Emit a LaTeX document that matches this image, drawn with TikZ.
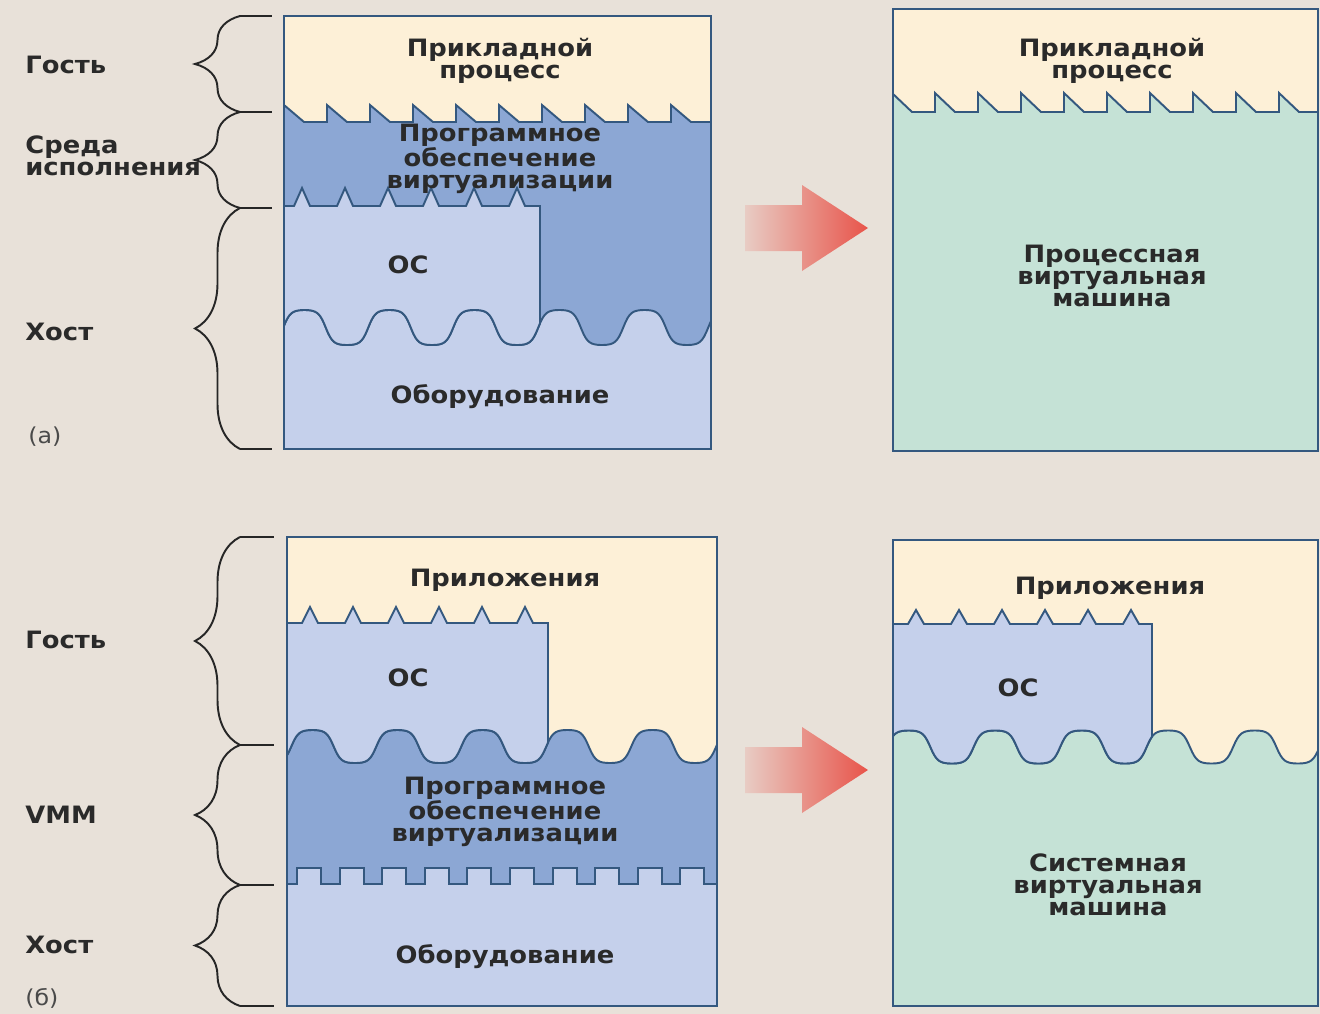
\documentclass[tikz,border=0pt]{standalone}
\usepackage{fontspec}
\newfontfamily\diagfont[FakeStretch=1.08]{DejaVu Sans}
\usetikzlibrary{decorations.pathreplacing,shadings}
\definecolor{bgcol}{HTML}{E8E1D9}
\definecolor{appcol}{HTML}{FDF0D7}
\definecolor{vmcol}{HTML}{8CA7D4}
\definecolor{oscol}{HTML}{C5D0EB}
\definecolor{vmtcol}{HTML}{C5E2D6}
\definecolor{linecol}{HTML}{34587F}
\definecolor{textcol}{HTML}{2A2A2A}
\definecolor{arrowred}{HTML}{E8544A}
\tikzset{
	layer text/.style={
		font=\diagfont\bfseries\fontsize{13.6pt}{12.5pt}\selectfont,
		text=textcol,
		align=center,
		inner sep=0pt
	},
	side label/.style={
		layer text,
		anchor=west,
		align=left
	},
	panel tag/.style={
		font=\diagfont\fontsize{12.5pt}{13pt}\selectfont,
		text=textcol!85,
		anchor=west,
		inner sep=0pt
	},
	layer edge/.style={draw=linecol, line width=1.1pt},
	box edge/.style={draw=linecol, line width=1.3pt},
	brace line/.style={draw=black!85, line width=1.1pt},
	side brace/.style={
		brace line,
		decorate,
		decoration={brace, amplitude=0.9cm, aspect=0.5}
	},
	shift arrow/.style={
		left color=arrowred!15!bgcol,
		middle color=arrowred!80!bgcol,
		right color=arrowred
	}
}

\begin{document}
\begin{tikzpicture}[x=0.02cm, y=-0.02cm,
	declare function={
		hump(\t)=tanh(1.8*cos(\t))/tanh(1.8);
		hwA(\x)=327.5+17.5*hump(((\x-347)/85)*360);
		vmB(\x)=746.5+16.5*hump(((\x-355)/85)*360);
		vmC(\x)=747+16.5*hump(((\x-952)/86.5)*360);
	}]
	\useasboundingbox[fill=bgcol] (0,0) rectangle (1320,1014);

	% (a) left: process VM, layered view
	\begin{scope}
		\clip (284,16) rectangle (711,449);
		\fill[oscol] (284,16) rectangle (711,449);
		\path[fill=vmcol, layer edge] (270,100) -- (725,100)
			-- plot[domain=725:270, samples=220] (\x,{hwA(\x)}) -- cycle;
		\path[fill=oscol, layer edge] (270,206)
			\foreach \p in {302,345,...,517} { -- (\p-8,206) -- (\p,188) -- (\p+8,206) }
			-- (540,206) -- plot[domain=540:270, samples=140] (\x,{hwA(\x)}) -- cycle;
		\path[fill=appcol, layer edge] (270,0) -- (270,105)
			\foreach \p in {284,327,...,671} { -- (\p,105) -- (\p+20,122) -- (\p+43,122) }
			-- (725,122) -- (725,0) -- cycle;
	\end{scope}
	\draw[box edge] (284,16) rectangle (711,449);
	\node[layer text] (appA) at (500,61) {Прикладной\\процесс};
	\node[layer text] (virtA) at (500,159) {Программное\\обеспечение\\виртуализации};
	\node[layer text] (osA) at (408,265) {ОС};
	\node[layer text] (hwA) at (500,397) {Оборудование};

	% (a) right: process VM
	\begin{scope}
		\clip (893,9) rectangle (1318,451);
		\fill[vmtcol] (893,9) rectangle (1318,451);
		\path[fill=appcol, layer edge] (880,0) -- (880,93)
			\foreach \p in {892,935,...,1279} { -- (\p,93) -- (\p+20,112) -- (\p+43,112) }
			-- (1330,112) -- (1330,0) -- cycle;
	\end{scope}
	\draw[box edge] (893,9) rectangle (1318,451);
	\node[layer text] (appAr) at (1112,61) {Прикладной\\процесс};
	\node[layer text] (pvm) at (1112,276) {Процессная\\виртуальная\\машина};

	% (б) left: system VM, layered view
	\begin{scope}
		\clip (287,537) rectangle (717,1006);
		\fill[appcol] (287,537) rectangle (717,1006);
		\path[fill=vmcol, layer edge] plot[domain=270:730, samples=220] (\x,{vmB(\x)})
			-- (730,890) -- (270,890) -- cycle;
		\path[fill=oscol, layer edge] (270,884)
			\foreach \k in {0,...,9} { -- ({297+42.6*\k},884) -- ({297+42.6*\k},868)
				-- ({321+42.6*\k},868) -- ({321+42.6*\k},884) }
			-- (730,884) -- (730,1020) -- (270,1020) -- cycle;
		\path[fill=oscol, layer edge] (270,623)
			\foreach \p in {310,353,...,525} { -- (\p-8,623) -- (\p,607) -- (\p+8,623) }
			-- (548,623) -- plot[domain=548:270, samples=140] (\x,{vmB(\x)}) -- cycle;
	\end{scope}
	\draw[box edge] (287,537) rectangle (717,1006);
	\node[layer text] (appB) at (505,580) {Приложения};
	\node[layer text] (osB) at (408,678) {ОС};
	\node[layer text] (virtB) at (505,812) {Программное\\обеспечение\\виртуализации};
	\node[layer text] (hwB) at (505,957) {Оборудование};

	% (б) right: system VM
	\begin{scope}
		\clip (893,540) rectangle (1318,1006);
		\fill[appcol] (893,540) rectangle (1318,1006);
		\path[fill=vmtcol, layer edge] plot[domain=880:1330, samples=220] (\x,{vmC(\x)})
			-- (1330,1020) -- (880,1020) -- cycle;
		\path[fill=oscol, layer edge] (880,624)
			\foreach \p in {916,959,...,1131} { -- (\p-8,624) -- (\p,610) -- (\p+8,624) }
			-- (1152,624) -- plot[domain=1152:880, samples=140] (\x,{vmC(\x)}) -- cycle;
	\end{scope}
	\draw[box edge] (893,540) rectangle (1318,1006);
	\node[layer text] (appBr) at (1110,588) {Приложения};
	\node[layer text] (osBr) at (1018,688) {ОС};
	\node[layer text] (svm) at (1108,885) {Системная\\виртуальная\\машина};

	% arrows
	\foreach \ay in {228,770} {
		\path[shift arrow] (745,\ay-23) -- (802,\ay-23) -- (802,\ay-43) -- (868,\ay)
			-- (802,\ay+43) -- (802,\ay+23) -- (745,\ay+23) -- cycle;
	}

	% braces and side labels, (a)
	\coordinate (ga0) at (240,16);
	\coordinate (ga1) at (240,112);
	\coordinate (ga2) at (240,208);
	\coordinate (ga3) at (240,449);
	\draw[side brace] (ga1) -- (ga0);
	\draw[side brace] (ga2) -- (ga1);
	\draw[side brace] (ga3) -- (ga2);
	\foreach \g in {ga0,ga1,ga2,ga3} \draw[brace line] (\g) -- ++(32,0);
	\node[side label] (guestA) at (25,65) {Гость};
	\node[side label] (runA) at (25,156) {Среда\\исполнения};
	\node[side label] (hostA) at (25,332) {Хост};
	\node[panel tag] (tagA) at (28,437) {(а)};

	% braces and side labels, (б)
	\coordinate (gb0) at (240,537);
	\coordinate (gb1) at (240,745);
	\coordinate (gb2) at (240,885);
	\coordinate (gb3) at (240,1006);
	\draw[side brace] (gb1) -- (gb0);
	\draw[side brace] (gb2) -- (gb1);
	\draw[side brace] (gb3) -- (gb2);
	\foreach \g in {gb0,gb1,gb2,gb3} \draw[brace line] (\g) -- ++(34,0);
	\node[side label] (guestB) at (25,640) {Гость};
	\node[side label] (vmmB) at (25,815) {VMM};
	\node[side label] (hostB) at (25,945) {Хост};
	\node[panel tag] (tagB) at (25,998) {(б)};
\end{tikzpicture}
\end{document}
